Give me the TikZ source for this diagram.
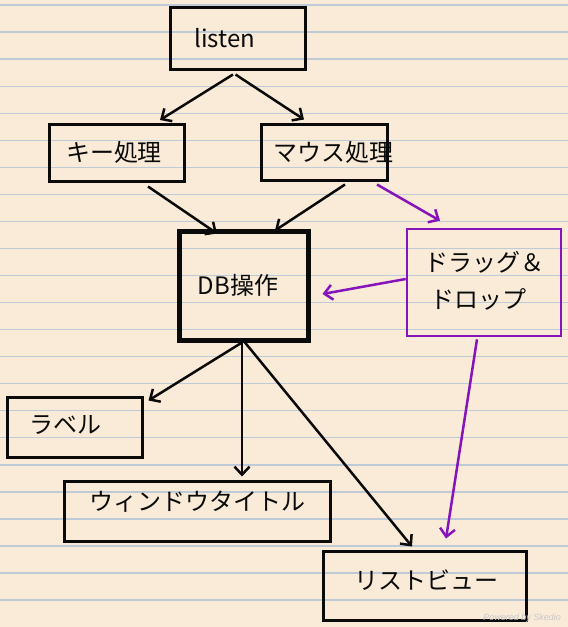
\documentclass[tikz,border=0pt]{standalone}
\usepackage{fontspec}
\setmainfont{Noto Sans CJK JP}
\newfontfamily\wmfont{Liberation Sans}
\usetikzlibrary{arrows.meta,calc}
\definecolor{paper}{RGB}{250,235,216}
\definecolor{rule}{RGB}{190,202,214}
\definecolor{ink}{RGB}{10,10,10}
\definecolor{purp}{RGB}{134,20,186}
\tikzset{
  box/.style={draw=ink,line width=3pt,inner sep=0pt,rectangle},
  dbbox/.style={draw=ink,line width=5pt,inner sep=0pt,rectangle},
  pbox/.style={draw=purp,line width=2.6pt,inner sep=0pt,rectangle},
  lbl/.style={inner sep=0pt,font=\fontsize{24}{28}\selectfont,text=ink},
  arr/.style={draw=ink,line width=2.5pt,-{Straight Barb[length=8pt,width=15pt]}},
  parr/.style={draw=purp,line width=2.5pt,-{Straight Barb[length=8pt,width=15pt]}}
}
\begin{document}
\begin{tikzpicture}[x=1pt,y=-1pt]
\fill[paper] (0,0) rectangle (568,627);
\useasboundingbox (0,0) rectangle (568,627);
\foreach \k in {0,...,22}{
  \draw[rule,line width=1.3pt] (0,5+27.05*\k) -- (568,5+27.05*\k);
}
% boxes
\node[box,minimum width=135pt,minimum height=62pt] (listen) at (237.5,38) {};
\node[box,minimum width=135pt,minimum height=57pt] (key) at (116.5,152.5) {};
\node[box,minimum width=126pt,minimum height=56pt] (mouse) at (324,152) {};
\node[dbbox,minimum width=129pt,minimum height=109pt] (db) at (243.5,285.5) {};
\node[pbox,minimum width=154pt,minimum height=107pt] (drag) at (484,282.5) {};
\node[box,minimum width=135pt,minimum height=60pt] (label) at (74.5,427) {};
\node[box,minimum width=266pt,minimum height=60pt] (window) at (197,511) {};
\node[box,minimum width=203pt,minimum height=69pt] (list) at (424.5,585.5) {};
% texts
\node[lbl,anchor=west] (tlisten) at (194,38) {listen};
\node[lbl] (tkey) at (114,152) {キー処理};
\node[lbl] (tmouse) at (333,152) {マウス処理};
\node[lbl] (tdb) at (238,285) {DB操作};
\node[lbl,anchor=west] (tdrag1) at (424,262) {ドラッグ＆};
\node[lbl,anchor=west] (tdrag2) at (430,299) {ドロップ};
\node[lbl,anchor=west] (tlabel) at (29,425) {ラベル};
\node[lbl,anchor=west] (twin) at (89,502) {ウィンドウタイトル};
\node[lbl,anchor=west] (tlist) at (354,580) {リストビュー};
\node[inner sep=0pt,text=black!22,font=\wmfont\itshape\fontsize{9}{10}\selectfont,anchor=east] (wm) at (561,618) {Powered by Skedio};
% connectors
\draw[arr] ($(listen.south)+(-4.5,4)$) -- ($(key.north)+(43.5,-2.5)$);
\draw[arr] ($(listen.south)+(-2,4)$) -- ($(mouse.north)+(-20,-3)$);
\draw[arr] ($(key.south)+(31.5,4)$) -- ($(db.north)+(-26.5,5)$);
\draw[arr] ($(mouse.south)+(21,3)$) -- ($(db.north)+(31.5,2)$);
\draw[parr] ($(mouse.south)+(53,3)$) -- ($(drag.north)+(-44,-7)$);
\draw[parr] ($(drag.west)+(0,-3.5)$) -- ($(db.east)+(12,8.5)$);
\draw[parr] ($(drag.south)+(-7,2)$) -- ($(list.north)+(21.5,-11)$);
\draw[arr] ($(db.south)+(-1.5,0)$) -- ($(label.north east)+(5,5)$);
\draw[arr] ($(db.south)+(-1.5,0)$) -- ($(window.north)+(45,-3)$);
\draw[arr] ($(db.south)+(1.5,0)$) -- ($(list.north)+(-12.5,-3)$);
\end{tikzpicture}
\end{document}
